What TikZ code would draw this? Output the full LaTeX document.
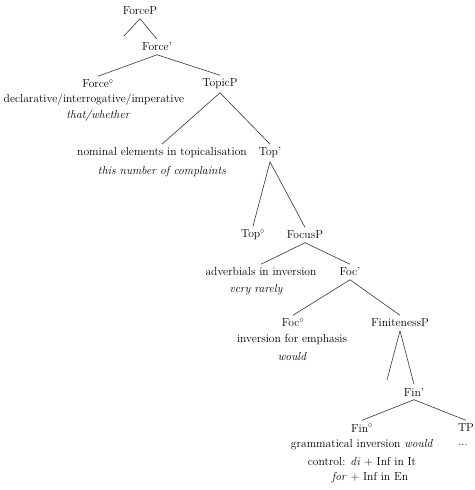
\documentclass[tikz,border=0pt]{standalone}
\usepackage{tikz}
\begin{document}
\begin{tikzpicture}[x=1pt, y=1pt,
  lbl/.style={font=\fontsize{11.6}{13}\selectfont, text=black, inner sep=3.5pt},
  ex/.style={lbl, font=\fontsize{11.6}{13}\selectfont\itshape},
  branch/.style={black!75, line width=0.65pt}]
  \useasboundingbox (0,0) rectangle (474,490);
  % heads and phrases
  \node[lbl] (forcep)   at (140,479) {ForceP};
  \node[lbl] (forcebar) at (157,443) {Force'};
  \node[lbl] (forcehd)  at (98,406)  {Force$^\circ$};
  \node[lbl] (topicp)   at (220,406) {TopicP};
  \node[lbl] (nominal)  at (162,337) {nominal elements in topicalisation};
  \node[lbl] (topbar)   at (270,337) {Top'};
  \node[lbl] (tophd)    at (253,255) {Top$^\circ$};
  \node[lbl] (focusp)   at (305,255) {FocusP};
  \node[lbl] (adverb)   at (261,218) {adverbials in inversion};
  \node[lbl] (focbar)   at (350,218) {Foc'};
  \node[lbl] (fochd)    at (293,167) {Foc$^\circ$};
  \node[lbl] (finp)     at (400,167) {FinitenessP};
  \node[lbl] (finbar)   at (414,98)  {Fin'};
  \node[lbl] (finhd)    at (362,62)  {Fin$^\circ$};
  \node[lbl] (tp)       at (466,62)  {TP};
  % descriptions
  \node[lbl] (forcedsc) at (94,390)  {declarative/interrogative/imperative};
  \node[ex]  (forceex)  at (98,374)  {that/whether};
  \node[ex]  (nominalex) at (162,318) {this number of complaints};
  \node[ex]  (adverbex) at (256,200) {very rarely};
  \node[lbl] (focdsc)   at (292,150) {inversion for emphasis};
  \node[ex]  (focex)    at (292,133) {would};
  \node[lbl] (findsc)   at (362,45)  {grammatical inversion \textit{would}};
  \node[lbl] (finctl)   at (362,28)  {control: \textit{di} + Inf in It};
  \node[lbl] (finfor)   at (370,12)  {\textit{for} + Inf in En};
  \node[lbl] (tpdots)   at (463,45)  {...};
  % empty branches
  \coordinate (forcegap) at (124,454);
  \coordinate (fingap)   at (387,110);
  % branches
  \draw[branch] (forcep.south) -- (forcegap);
  \draw[branch] (forcep.south) -- (forcebar.north);
  \draw[branch] (forcebar.south) -- (forcehd.north);
  \draw[branch] (forcebar.south) -- (topicp.north);
  \draw[branch] (topicp.south) -- (nominal.north);
  \draw[branch] (topicp.south) -- (topbar.north);
  \draw[branch] (topbar.south) -- (tophd.north);
  \draw[branch] (topbar.south) -- (focusp.north);
  \draw[branch] (focusp.south) -- (adverb.north);
  \draw[branch] (focusp.south) -- (focbar.north);
  \draw[branch] (focbar.south) -- (fochd.north);
  \draw[branch] (focbar.south) -- (finp.north);
  \draw[branch] (finp.south) -- (fingap);
  \draw[branch] (finp.south) -- (finbar.north);
  \draw[branch] (finbar.south) -- (finhd.north);
  \draw[branch] (finbar.south) -- (tp.north);
\end{tikzpicture}
\end{document}
